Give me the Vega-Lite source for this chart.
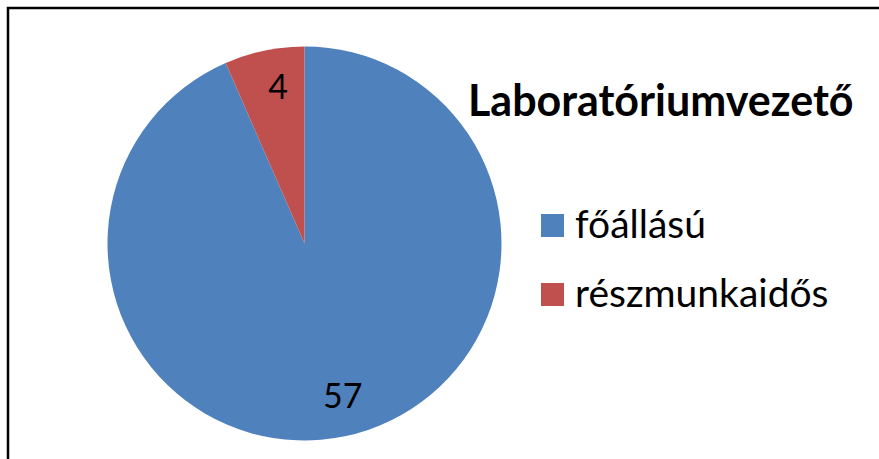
{
  "$schema": "https://vega.github.io/schema/vega-lite/v6.json",
  "width": 871,
  "height": 451,
  "autosize": {"type": "none"},
  "padding": {"left": 8, "top": 8, "right": 0, "bottom": 0},
  "background": "white",
  "config": {
    "view": {"stroke": null}
  },
  "title": {
    "text": "Laboratóriumvezető",
    "orient": "top",
    "anchor": "start",
    "frame": "group",
    "font": "Lato",
    "fontSize": 43,
    "fontWeight": "bold",
    "color": "black",
    "baseline": "alphabetic",
    "offset": 0,
    "dx": 460,
    "dy": 152
  },
  "data": {
    "values": [
      {"category": "főállású", "value": 57},
      {"category": "részmunkaidős", "value": 4}
    ]
  },
  "layer": [
    {
      "data": {"values": [{"frame": "chart"}]},
      "mark": {"type": "rect", "x": 0, "y": 0, "x2": {"expr": "width + 10"}, "y2": {"expr": "height + 10"}, "filled": false, "stroke": "black", "strokeWidth": 2.5, "fill": null},
      "encoding": {}
    },
    {
      "mark": {"type": "arc", "outerRadius": 197, "x": 296.5, "y": 235.5},
      "encoding": {
        "theta": {"field": "value", "type": "quantitative", "stack": true},
        "order": {"field": "category", "type": "nominal"},
        "color": {
          "field": "category",
          "type": "nominal",
          "scale": {"domain": ["főállású", "részmunkaidős"], "range": ["#4F81BD", "#C0504D"]},
          "legend": {
            "orient": "none",
            "legendX": 525,
            "legendY": 198,
            "title": null,
            "symbolType": "square",
            "symbolSize": 529,
            "symbolStrokeWidth": 0,
            "labelFont": "Lato",
            "labelFontSize": 39,
            "labelColor": "black",
            "labelLimit": 0,
            "labelOffset": 3,
            "rowPadding": 29,
            "padding": 0
          }
        }
      }
    },
    {
      "mark": {"type": "text", "radius": 158, "x": 296.5, "y": 235.5, "dx": 6, "font": "Lato", "fontSize": 34, "color": "black"},
      "encoding": {
        "theta": {"field": "value", "type": "quantitative", "stack": true},
        "order": {"field": "category", "type": "nominal"},
        "text": {"field": "value", "type": "quantitative"}
      }
    }
  ]
}
